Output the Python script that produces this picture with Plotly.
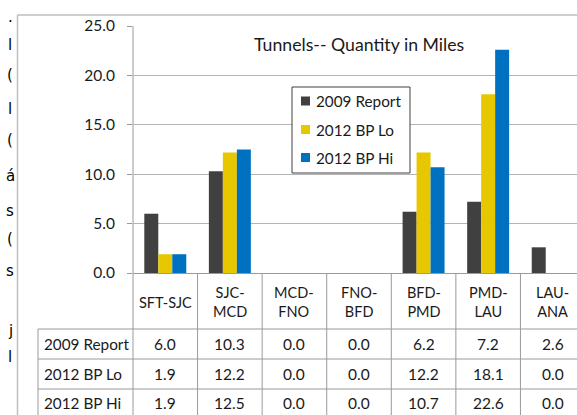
import plotly.graph_objects as go

# ---- data ----
categories = ["SFT-SJC", "SJC-MCD", "MCD-FNO", "FNO-BFD", "BFD-PMD", "PMD-LAU", "LAU-ANA"]
category_labels = ["SFT-SJC", "SJC-<br>MCD", "MCD-<br>FNO", "FNO-<br>BFD", "BFD-<br>PMD", "PMD-<br>LAU", "LAU-<br>ANA"]
series_names = ["2009 Report", "2012 BP Lo", "2012 BP Hi"]
report_2009 = [6.0, 10.3, 0.0, 0.0, 6.2, 7.2, 2.6]
bp_lo_2012 = [1.9, 12.2, 0.0, 0.0, 12.2, 18.1, 0.0]
bp_hi_2012 = [1.9, 12.5, 0.0, 0.0, 10.7, 22.6, 0.0]
y_ticks = [0, 5, 10, 15, 20, 25]
title_text = "Tunnels-- Quantity in Miles"
edge_fragments = [".", "l", "(", "l", "(", "á", "s", "(", "s", "j", "l"]
edge_fragment_rows = [17, 45, 75, 109, 140, 176, 211, 239, 271, 331, 357]

series_values = [report_2009, bp_lo_2012, bp_hi_2012]
colors = ["#404040", "#E6C700", "#0070C0"]

W, H = 577, 415
L, T, R, B = 133, 26, 577, 273  # plot area pixels
FONT = "Lato"
TXT = "#1a1a1a"
GRID = "#B4B4B4"
LINE = "#9A9A9A"


def px(x):
    return (x - L) / (R - L)


def py(y):
    return (B - y) / (B - T)


fig = go.Figure()
for name, vals, c in zip(series_names, series_values, colors):
    fig.add_trace(go.Bar(x=list(range(len(categories))), y=vals, name=name,
                         marker=dict(color=c, line=dict(width=0)),
                         showlegend=False, hoverinfo="x+y+name"))

shapes = []
annotations = []
n = len(categories)
# table vertical lines at category boundaries
for k in range(1, n + 1):
    shapes.append(dict(type="line", xref="x", yref="paper", x0=k - 0.5, x1=k - 0.5,
                       y0=0, y1=py(H + 5), line=dict(color=LINE, width=1)))
# y axis line through table
shapes.append(dict(type="line", xref="paper", yref="paper", x0=0, x1=0,
                   y0=1, y1=py(H + 5), line=dict(color=LINE, width=1)))
# table horizontal lines
for yy in [329, 359, 389]:
    shapes.append(dict(type="line", xref="paper", yref="paper", x0=px(38), x1=1,
                       y0=py(yy), y1=py(yy), line=dict(color=LINE, width=1)))
shapes.append(dict(type="line", xref="paper", yref="paper", x0=px(38), x1=px(38),
                   y0=py(329), y1=py(H + 5), line=dict(color=LINE, width=1)))
# outer chart border
shapes.append(dict(type="line", xref="paper", yref="paper", x0=px(17.5), x1=1.01,
                   y0=py(15), y1=py(15), line=dict(color="#BEBEBE", width=1.5)))
shapes.append(dict(type="line", xref="paper", yref="paper", x0=px(17.5), x1=px(17.5),
                   y0=py(15), y1=py(H + 5), line=dict(color="#BEBEBE", width=1.5)))

# category header labels
for i, lab in enumerate(category_labels):
    annotations.append(dict(x=i, xref="x", y=py(302), yref="paper", text=lab,
                            showarrow=False, xanchor="center", yanchor="middle",
                            font=dict(family=FONT, size=14.5, color=TXT)))
# table rows
row_centers = [344, 374, 403]
for name, vals, yc in zip(series_names, series_values, row_centers):
    annotations.append(dict(x=px(42), xref="paper", y=py(yc), yref="paper", text=name,
                            showarrow=False, xanchor="left", yanchor="middle",
                            font=dict(family=FONT, size=15.3, color=TXT)))
    for i, v in enumerate(vals):
        annotations.append(dict(x=i, xref="x", y=py(yc), yref="paper", text=f"{v:.1f}",
                                showarrow=False, xanchor="center", yanchor="middle",
                                font=dict(family=FONT, size=15.5, color=TXT)))

# title
annotations.append(dict(x=px(359), xref="paper", y=py(45), yref="paper", text=title_text,
                        showarrow=False, xanchor="center", yanchor="middle",
                        font=dict(family=FONT, size=17.7, color=TXT)))

# manual legend
shapes.append(dict(type="rect", xref="paper", yref="paper", x0=px(292), x1=px(410),
                   y0=py(87), y1=py(173), fillcolor="white",
                   line=dict(color="#404040", width=1), layer="above"))
leg_rows = [101, 129.5, 157.5]
for name, c, yc in zip(series_names, colors, leg_rows):
    shapes.append(dict(type="rect", xref="paper", yref="paper", x0=px(301), x1=px(310),
                       y0=py(yc - 4.5), y1=py(yc + 4.5), fillcolor=c,
                       line=dict(width=0), layer="above"))
    annotations.append(dict(x=px(314), xref="paper", y=py(yc), yref="paper", text=name,
                            showarrow=False, xanchor="left", yanchor="middle",
                            font=dict(family=FONT, size=15.3, color=TXT)))

# clipped text fragments at left edge
for ch, yy in zip(edge_fragments, edge_fragment_rows):
    annotations.append(dict(x=px(10), xref="paper", y=py(yy), yref="paper", text=ch,
                            showarrow=False, xanchor="center", yanchor="middle",
                            font=dict(family="DejaVu Sans", size=15, color="black")))

fig.update_layout(
    width=W, height=H,
    margin=dict(l=L, r=W - R, t=T, b=H - B, pad=0),
    paper_bgcolor="white", plot_bgcolor="white",
    barmode="group", bargap=0.35, bargroupgap=0,
    showlegend=False,
    shapes=shapes, annotations=annotations,
    xaxis=dict(type="linear", range=[-0.5, n - 0.5 - 8 / 64.5], showticklabels=False,
               showgrid=False, zeroline=False, showline=True, linecolor=LINE,
               linewidth=1, ticks=""),
    yaxis=dict(range=[0, 25], tickvals=y_ticks, tickformat=".1f",
               ticks="outside", ticklen=5, tickcolor=LINE, showgrid=True,
               gridcolor=GRID, gridwidth=1, zeroline=False, showline=False,
               ticklabelstandoff=9,
               tickfont=dict(family=FONT, size=15.5, color=TXT)),
)

fig.write_html("out.html", config={"displayModeBar": False},
               post_script="document.body.style.margin='0';document.body.style.overflow='hidden';")
